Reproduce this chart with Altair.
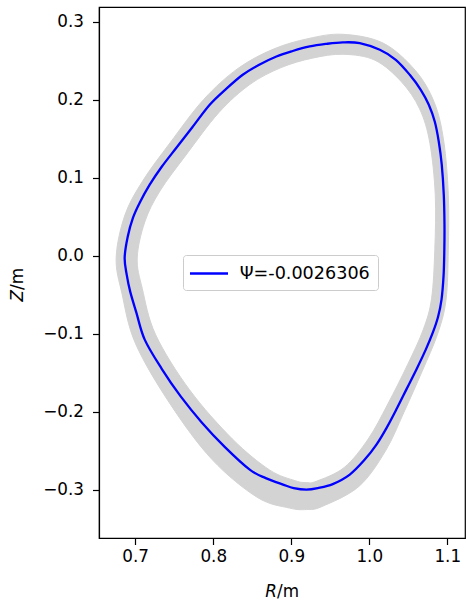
import altair as alt
import pandas as pd

psi_label = "Ψ=-0.0026306"

# Last closed flux surface (blue contour), R and Z in metres
lcfs_R = [0.6865, 0.6904, 0.6972, 0.7058, 0.7186, 0.7340, 0.7528, 0.7737, 0.7955, 0.8160,
          0.8378, 0.8583, 0.8810, 0.9019, 0.9237, 0.9442, 0.9660, 0.9878, 1.0135, 1.0340,
          1.0519, 1.0660, 1.0763, 1.0840, 1.0891, 1.0929, 1.0955, 1.0964, 1.0962, 1.0953,
          1.0926, 1.0882, 1.0814, 1.0724, 1.0609, 1.0481, 1.0353, 1.0224, 1.0092, 0.9942,
          0.9750, 0.9532, 0.9340, 0.9195, 0.9032, 0.8895, 0.8673, 0.8468, 0.8147, 0.7853,
          0.7583, 0.7340, 0.7122, 0.7015, 0.6936, 0.6891]
lcfs_Z = [-0.0026, 0.0243, 0.0487, 0.0679, 0.0910, 0.1140, 0.1384, 0.1653, 0.1935, 0.2133,
          0.2319, 0.2445, 0.2554, 0.2624, 0.2682, 0.2714, 0.2735, 0.2725, 0.2639, 0.2511,
          0.2319, 0.2127, 0.1935, 0.1717, 0.1461, 0.1166, 0.0782, 0.0397, 0.0077, -0.0243,
          -0.0564, -0.0782, -0.0987, -0.1204, -0.1448, -0.1704, -0.1960, -0.2204, -0.2422, -0.2614,
          -0.2806, -0.2928, -0.2979, -0.2998, -0.2979, -0.2934, -0.2851, -0.2742, -0.2450, -0.2137,
          -0.1804, -0.1450, -0.1076, -0.0730, -0.0461, -0.0243]

# Outermost grey flux contour
outer_R = [0.6756, 0.6869, 0.7099, 0.7447, 0.7878, 0.8318, 0.8772, 0.9215, 0.9658, 1.0176,
           1.0588, 1.0833, 1.0954, 1.1013, 1.1013, 1.0983, 1.0874, 1.0678, 1.0444, 1.0209,
           0.9867, 0.9390, 0.9195, 0.8977, 0.8563, 0.7986, 0.7450, 0.7005, 0.6831]
outer_Z = [-0.0023, 0.0523, 0.0963, 0.1447, 0.2003, 0.2401, 0.2648, 0.2782, 0.2838, 0.2726,
           0.2377, 0.1965, 0.1471, 0.0784, 0.0076, -0.0571, -0.1008, -0.1481, -0.2008, -0.2501,
           -0.2958, -0.3217, -0.3254, -0.3235, -0.3097, -0.2614, -0.1904, -0.1129, -0.0488]

# Innermost grey flux contour
inner_R = [0.7026, 0.7123, 0.7317, 0.7650, 0.8071, 0.8469, 0.8869, 0.9269, 0.9664, 1.0073,
           1.0412, 1.0645, 1.0777, 1.0846, 1.0840, 1.0799, 1.0694, 1.0494, 1.0238, 0.9987,
           0.9679, 0.9322, 0.9195, 0.9053, 0.8721, 0.8246, 0.7696, 0.7262, 0.7091]
inner_Z = [-0.0029, 0.0433, 0.0829, 0.1289, 0.1833, 0.2195, 0.2411, 0.2532, 0.2582, 0.2506,
           0.2229, 0.1883, 0.1443, 0.0776, 0.0079, -0.0547, -0.0942, -0.1391, -0.1901, -0.2349,
           -0.2715, -0.2892, -0.2908, -0.2885, -0.2746, -0.2350, -0.1719, -0.1013, -0.0422]

x_ticks = [0.7, 0.8, 0.9, 1.0, 1.1]
y_ticks = [-0.3, -0.2, -0.1, 0.0, 0.1, 0.2, 0.3]
x_domain = [0.6536, 1.1227]
y_domain = [-0.3619, 0.3188]

FONT = "DejaVu Sans"
FS = 16.8


def contour(R, Z, label):
    rows = [{"R": r, "Z": z, "i": k, "label": label} for k, (r, z) in enumerate(zip(R, Z))]
    return pd.DataFrame(rows)


df_lcfs = contour(lcfs_R, lcfs_Z, psi_label)
df_outer = contour(outer_R, outer_Z, "outer")
df_inner = contour(inner_R, inner_Z, "inner")

X = alt.X("R:Q", scale=alt.Scale(domain=x_domain, nice=False, zero=False),
          axis=alt.Axis(values=x_ticks, format=".1f", title=None, grid=False,
                        labelPadding=4, labelFontSize=FS, labelFont=FONT,
                        labelColor="black", tickSize=6.5, tickColor="black",
                        domainColor="black", tickWidth=1.2, domainWidth=1.2))
Y = alt.Y("Z:Q", scale=alt.Scale(domain=y_domain, nice=False, zero=False),
          axis=alt.Axis(values=y_ticks, format=".1f", title=None, grid=False,
                        labelPadding=9, labelFontSize=FS, labelFont=FONT,
                        labelColor="black", tickSize=6.5, tickColor="black",
                        domainColor="black", tickWidth=1.2, domainWidth=1.2))
O = alt.Order("i:Q")

outer_layer = alt.Chart(df_outer).mark_line(
    color="#d3d3d3", fill="#d3d3d3", strokeWidth=1, interpolate="cardinal-closed"
).encode(x=X, y=Y, order=O)

inner_layer = alt.Chart(df_inner).mark_line(
    color="#d3d3d3", fill="white", strokeWidth=1, interpolate="cardinal-closed"
).encode(x=X, y=Y, order=O)

blue_layer = alt.Chart(df_lcfs).mark_line(strokeWidth=2.3, interpolate="cardinal-closed").encode(
    x=X, y=Y, order=O,
    color=alt.Color("label:N",
                    scale=alt.Scale(domain=[psi_label], range=["blue"]),
                    legend=alt.Legend(title=None, orient="none", legendX=84, legendY=248,
                                      symbolType="M-2,0H2", symbolSize=361,
                                      symbolOffset=7.5,
                                      symbolStrokeWidth=2.3, labelFont=FONT,
                                      labelFontSize=17.6, labelColor="black",
                                      labelOffset=19.7, padding=7.5,
                                      strokeColor="#cccccc",
                                      fillColor="rgba(255,255,255,0.8)",
                                      cornerRadius=3)),
)


def title_part(text, italic, x, y, align, angle=0):
    return alt.Chart(pd.DataFrame({"t": [text]})).mark_text(
        font=FONT, fontSize=FS, fontStyle="italic" if italic else "normal",
        align=align, baseline="alphabetic", angle=angle, color="black"
    ).encode(text="t:N", x=alt.value(x), y=alt.value(y))


titles = [
    title_part("R", True, 178, 590, "right"),
    title_part("/m", False, 178, 590, "left"),
    title_part("Z", True, -76, 283, "right", 270),
    title_part("/m", False, -76, 283, "left", 270),
]

chart = alt.layer(outer_layer, inner_layer, blue_layer, *titles).properties(
    width=366, height=531,
    padding={"left": 99, "top": 7, "right": 1, "bottom": 63},
    autosize=alt.AutoSizeParams(type="none"),
    background="white",
).configure_view(stroke="black", strokeWidth=1.2)

chart.save("out.html", embed_options={"renderer": "svg", "actions": False})
